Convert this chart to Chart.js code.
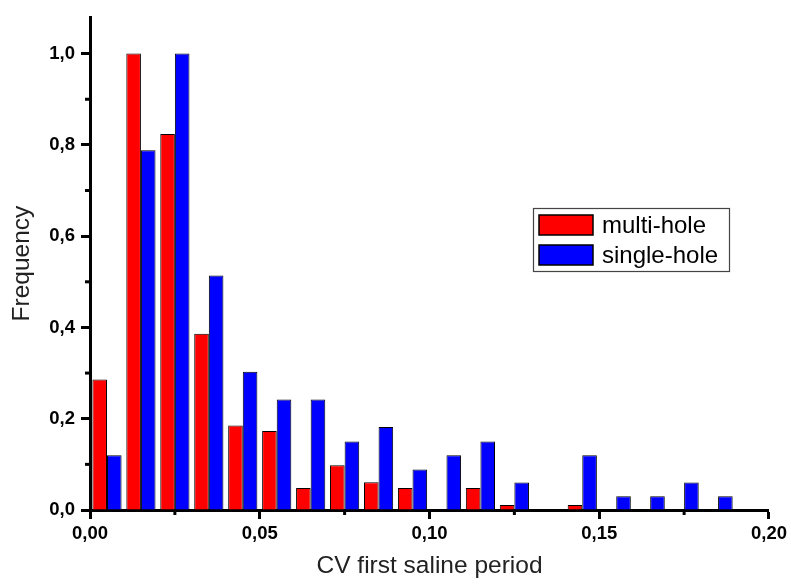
<!DOCTYPE html>
<html>
<head>
<meta charset="utf-8">
<script src="https://cdn.jsdelivr.net/npm/chart.js@4/dist/chart.umd.min.js"></script>
<style>
  html, body { margin: 0; padding: 0; background: #fff; }
  #wrap { width: 791px; height: 586px; }
</style>
</head>
<body>
<div id="wrap"><canvas id="hist"></canvas></div>
<script>
// bins of width 0.01, from 0.00 to 0.20
const binStarts = [0.00, 0.01, 0.02, 0.03, 0.04, 0.05, 0.06, 0.07, 0.08, 0.09,
                   0.10, 0.11, 0.12, 0.13, 0.14, 0.15, 0.16, 0.17, 0.18, 0.19];
const multiHole = [0.286, 1.0, 0.824, 0.386, 0.185, 0.173, 0.048, 0.098, 0.061, 0.048,
                   0, 0.048, 0.011, 0, 0.011, 0, 0, 0, 0, 0];
const singleHole = [0.12, 0.788, 1.0, 0.514, 0.303, 0.242, 0.242, 0.15, 0.182, 0.089,
                    0.12, 0.15, 0.06, 0, 0.12, 0.03, 0.03, 0.06, 0.03, 0];
const xTicks = [0, 0.05, 0.10, 0.15, 0.20];
const xMinor = [0.025, 0.075, 0.125, 0.175];
const yTicks = [0, 0.2, 0.4, 0.6, 0.8, 1.0];
const yMinor = [0.1, 0.3, 0.5, 0.7, 0.9];

const tickFont = { family: "Arial, 'Liberation Sans', sans-serif", size: 18.5, weight: "bold" };
const titleFont = { family: "Arial, 'Liberation Sans', sans-serif", size: 24.5 };

// small minor ticks like the Origin plot
const minorTicks = {
  id: "minorTicks",
  afterDraw(chart) {
    const ctx = chart.ctx;
    const xs = chart.scales.xv, ys = chart.scales.y;
    const area = chart.chartArea;
    ctx.save();
    ctx.strokeStyle = "#000";
    ctx.lineWidth = 3;
    xMinor.forEach(v => {
      const px = xs.getPixelForValue(v);
      ctx.beginPath();
      ctx.moveTo(px, area.bottom);
      ctx.lineTo(px, area.bottom + 5);
      ctx.stroke();
    });
    yMinor.forEach(v => {
      const py = ys.getPixelForValue(v);
      ctx.beginPath();
      ctx.moveTo(area.left, py);
      ctx.lineTo(area.left - 5, py);
      ctx.stroke();
    });
    ctx.restore();
  }
};

// boxed legend inside the plot, on the right
const boxLegend = {
  id: "boxLegend",
  afterDraw(chart) {
    const ctx = chart.ctx;
    const x0 = 533, y0 = 208, w = 196, h = 63;
    ctx.save();
    ctx.fillStyle = "#fff";
    ctx.fillRect(x0, y0, w, h);
    ctx.strokeStyle = "#444";
    ctx.lineWidth = 1.2;
    ctx.strokeRect(x0 + 0.5, y0 + 0.5, w, h);
    ctx.font = "24px Arial, 'Liberation Sans', sans-serif";
    ctx.textBaseline = "middle";
    chart.data.datasets.forEach((ds, i) => {
      const sy = y0 + 7 + i * 30;
      ctx.fillStyle = ds.backgroundColor;
      ctx.fillRect(x0 + 6, sy, 54, 20);
      ctx.strokeStyle = "#000";
      ctx.lineWidth = 1.5;
      ctx.strokeRect(x0 + 6, sy, 54, 20);
      ctx.fillStyle = "#000";
      ctx.fillText(ds.label, x0 + 69, sy + 11);
    });
    ctx.restore();
  }
};

new Chart(document.getElementById("hist"), {
  type: "bar",
  data: {
    labels: binStarts.map(v => v.toFixed(2)),
    datasets: [
      { label: "multi-hole", data: multiHole, backgroundColor: "#ff0000",
        borderColor: "#000", borderWidth: 1 },
      { label: "single-hole", data: singleHole, backgroundColor: "#0000ff",
        borderColor: "#000", borderWidth: 1 }
    ]
  },
  options: {
    responsive: true,
    maintainAspectRatio: false,
    animation: false,
    layout: { padding: { top: 15, right: 21, left: 0, bottom: 0 } },
    datasets: { bar: { categoryPercentage: 0.86, barPercentage: 1.0 } },
    plugins: {
      legend: { display: false },
      tooltip: { enabled: false }
    },
    scales: {
      x: { display: false, offset: true },
      xv: {
        type: "linear",
        position: "bottom",
        offset: false,
        min: 0, max: 0.2,
        afterBuildTicks: s => { s.ticks = xTicks.map(v => ({ value: v })); },
        afterFit: s => { s.height = 76; },
        border: { display: true, color: "#000", width: 3 },
        grid: { offset: false, drawOnChartArea: false, tickLength: 9, tickWidth: 3, tickColor: "#000" },
        ticks: {
          color: "#000", font: tickFont, padding: 4, maxRotation: 0,
          callback: v => v.toFixed(2).replace(".", ",")
        },
        title: { display: true, text: "CV first saline period", color: "#222",
                 font: titleFont, padding: { top: 0, bottom: 5 } }
      },
      y: {
        min: 0, max: 1.08,
        afterBuildTicks: s => { s.ticks = yTicks.map(v => ({ value: v })); },
        afterFit: s => { s.width = 90; },
        border: { display: true, color: "#000", width: 3 },
        grid: { drawOnChartArea: false, tickLength: 9, tickWidth: 3, tickColor: "#000" },
        ticks: {
          color: "#000", font: tickFont, padding: 6,
          callback: v => v.toFixed(1).replace(".", ",")
        },
        title: { display: true, text: "Frequency", color: "#222",
                 font: titleFont, padding: { top: 8, bottom: 0 } }
      }
    }
  },
  plugins: [minorTicks, boxLegend]
});
</script>
</body>
</html>
